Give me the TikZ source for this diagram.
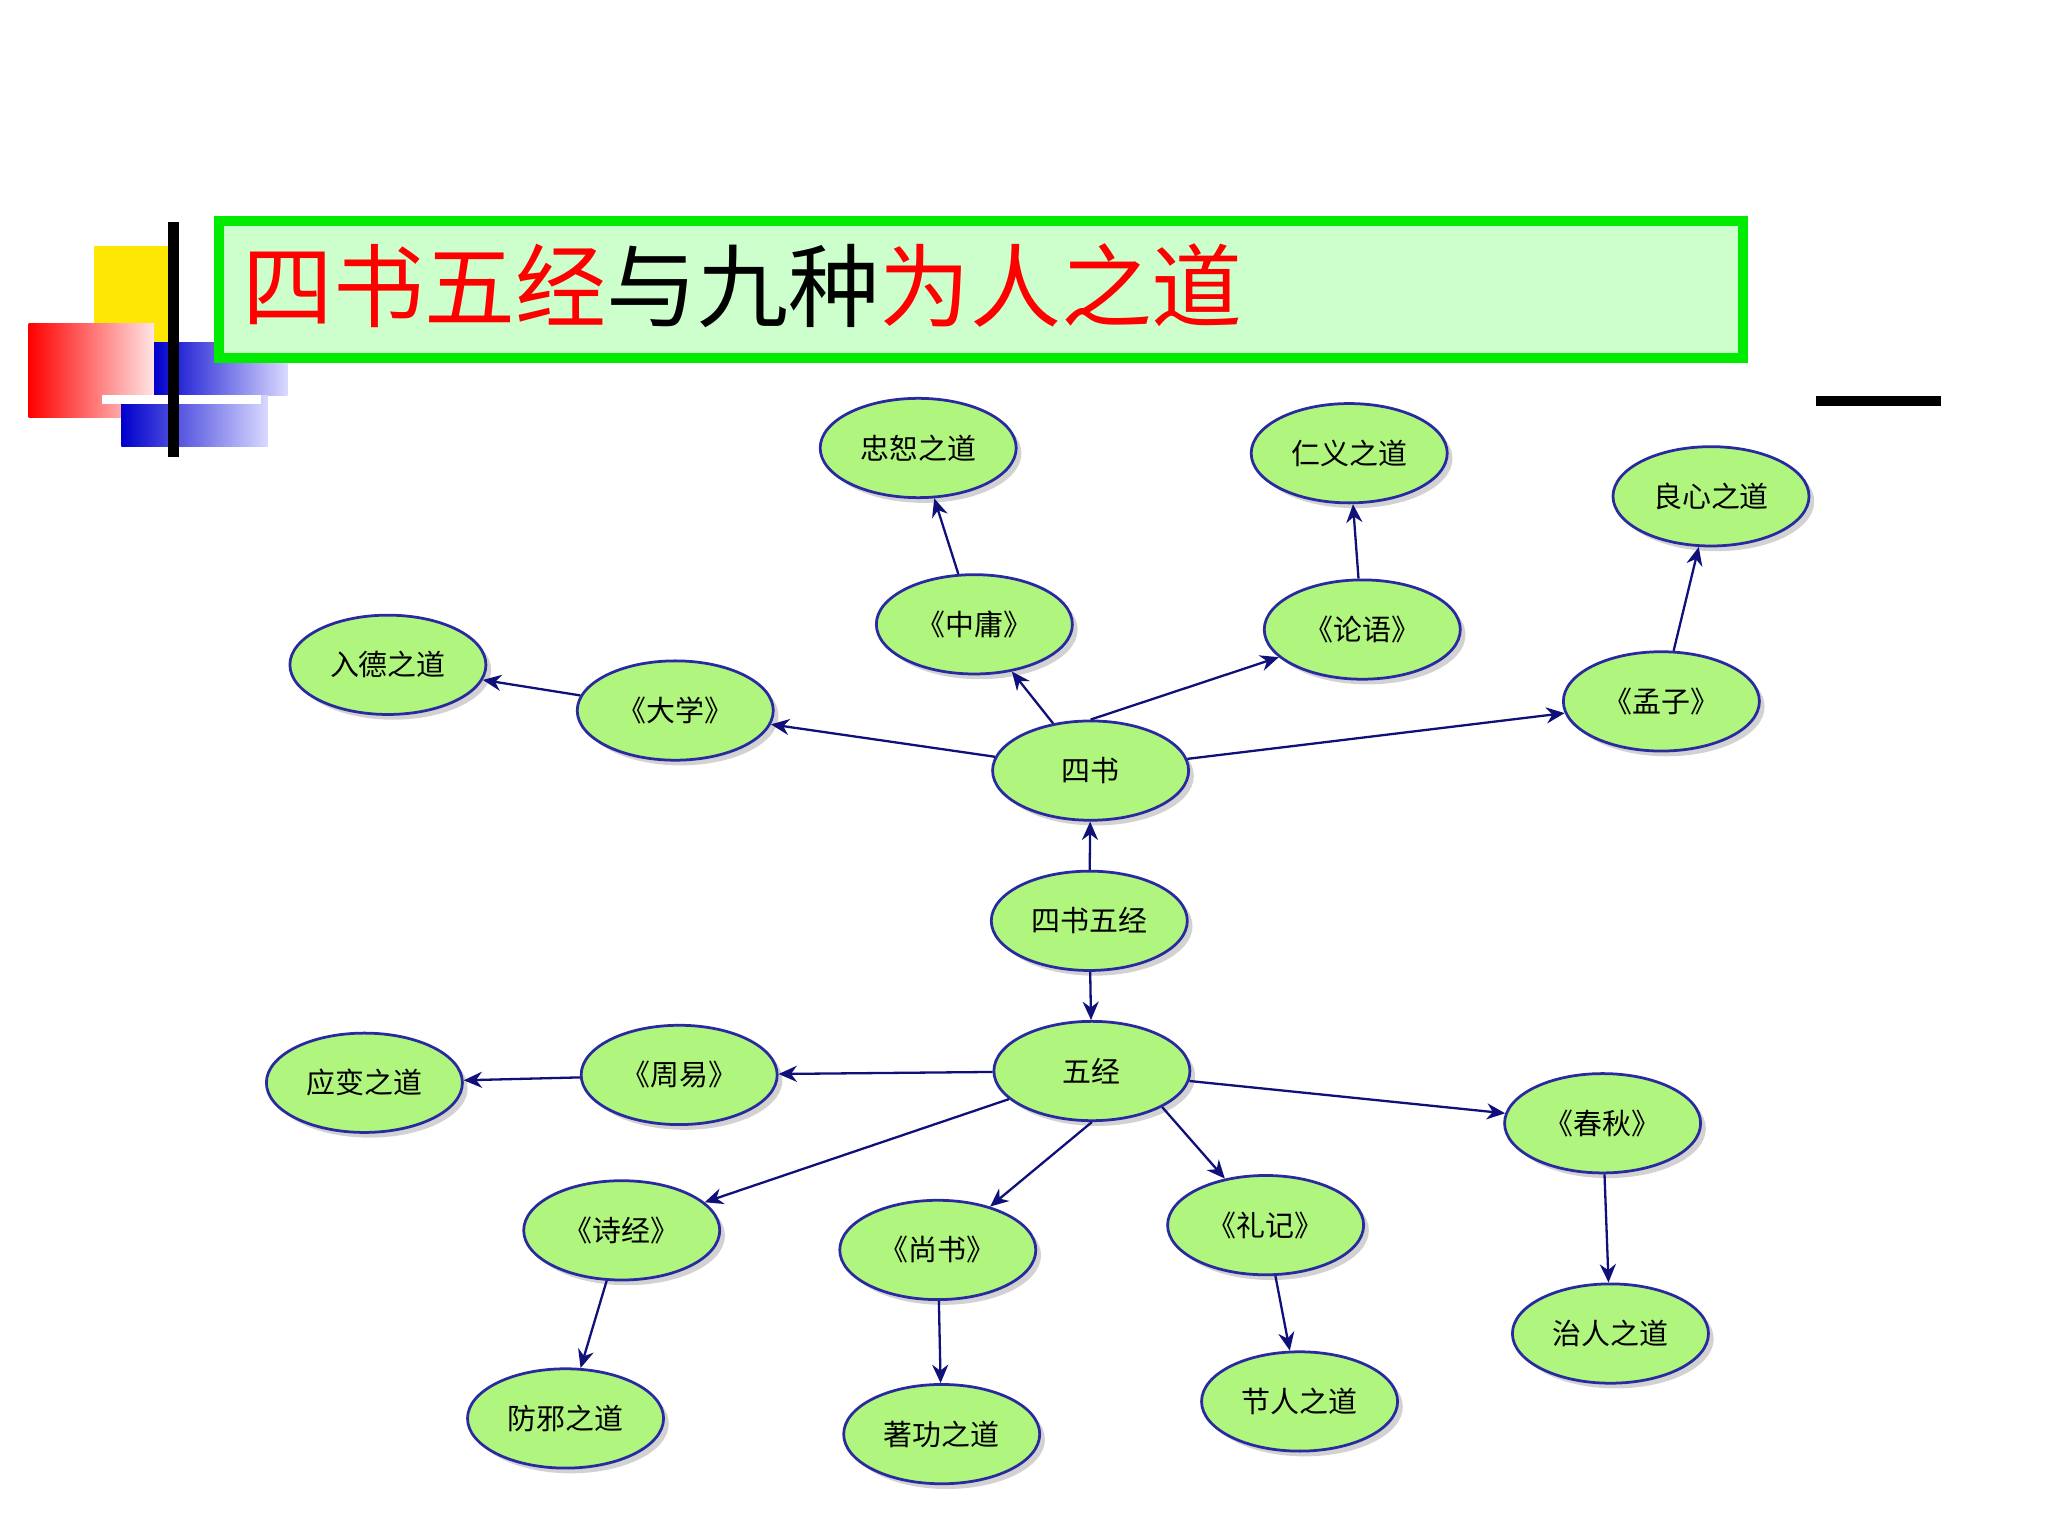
\documentclass[tikz,border=0pt]{standalone}
\usepackage{fontspec}
\setmainfont{Noto Sans CJK SC}
\usetikzlibrary{shapes.geometric,arrows.meta,shadows}
\definecolor{ngreen}{HTML}{B0F57E}
\definecolor{nblue}{HTML}{2A2AA0}
\definecolor{enavy}{HTML}{10107A}
\tikzset{
 nd/.style={ellipse,draw=nblue,line width=0.6pt,fill=ngreen,minimum width=1.5cm,minimum height=0.76cm,inner sep=0pt,font=\fontsize{6.3}{7}\selectfont,drop shadow={shadow xshift=0.04cm,shadow yshift=-0.04cm,fill=gray!70}},
 ed/.style={draw=enavy,line width=0.5pt,-{Stealth[length=4pt,width=3.5pt]}}
}
\begin{document}
\begin{tikzpicture}[x=0.01cm,y=-0.01cm]
\useasboundingbox (0,0) rectangle (1568,1176);
\fill[white] (0,0) rectangle (1568,1176);
% decoration
\fill[yellow!90!orange] (72,188) rectangle (135,262);
\shade[left color=red,right color=red!10] (22,248) rectangle (118,320);
\shade[left color=blue!80!black,right color=blue!15] (118,262) rectangle (220,303);
\shade[left color=blue!80!black,right color=blue!15] (93,303) rectangle (205,342);
\draw[white,line width=2pt] (78,306) -- (200,306);
\draw[black,line width=2.5pt] (133,170) -- (133,350);
\draw[black,line width=2pt] (1390,307) -- (1486,307);
% title
\node[draw={rgb,255:red,0;green,235;blue,0},line width=2.2pt,fill={rgb,255:red,204;green,255;blue,204},minimum width=11.66cm,minimum height=1.05cm,anchor=north west] (tbox) at (164,165) {};
\node[anchor=west,font=\fontsize{19.8}{20}\selectfont,inner sep=0pt] (title) at (185,219) {\textcolor{red}{四书五经}与九种\textcolor{red}{为人之道}};
% nodes
\node[nd] (zs) at (703,343) {忠恕之道};
\node[nd] (ry) at (1033,347) {仁义之道};
\node[nd] (lx) at (1310,380) {良心之道};
\node[nd] (zy) at (746,478) {《中庸》};
\node[nd] (ly) at (1043,482) {《论语》};
\node[nd] (mz) at (1272,537) {《孟子》};
\node[nd] (rd) at (297,509) {入德之道};
\node[nd] (dx) at (517,544) {《大学》};
\node[nd] (ss) at (835,590) {四书};
\node[nd] (sswj) at (834,705) {四书五经};
\node[nd] (wj) at (836,820) {五经};
\node[nd] (yb) at (279,829) {应变之道};
\node[nd] (zhy) at (520,823) {《周易》};
\node[nd] (cq) at (1227,860) {《春秋》};
\node[nd] (sj) at (476,942) {《诗经》};
\node[nd] (sh) at (718,957) {《尚书》};
\node[nd] (lj) at (969,938) {《礼记》};
\node[nd] (fx) at (433,1086) {防邪之道};
\node[nd] (zg) at (721,1098) {著功之道};
\node[nd] (jr) at (995,1073) {节人之道};
\node[nd] (zr) at (1233,1021) {治人之道};
% edges
\draw[ed] (ss) -- (dx);
\draw[ed] (ss) -- (zy);
\draw[ed] (ss.north) -- (ly);
\draw[ed] (ss) -- (mz);
\draw[ed] (dx) -- (rd);
\draw[ed] (zy) -- (zs);
\draw[ed] (ly) -- (ry);
\draw[ed] (mz) -- (lx);
\draw[ed] (sswj) -- (ss);
\draw[ed] (sswj) -- (wj);
\draw[ed] (wj) -- (zhy);
\draw[ed] (zhy) -- (yb);
\draw[ed] (wj) -- (cq);
\draw[ed] (cq) -- (zr);
\draw[ed] (wj) -- (sj);
\draw[ed] (wj.south) -- (sh);
\draw[ed] (wj.south east) -- (lj);
\draw[ed] (sj) -- (fx);
\draw[ed] (sh) -- (zg);
\draw[ed] (lj) -- (jr);
\end{tikzpicture}
\end{document}
